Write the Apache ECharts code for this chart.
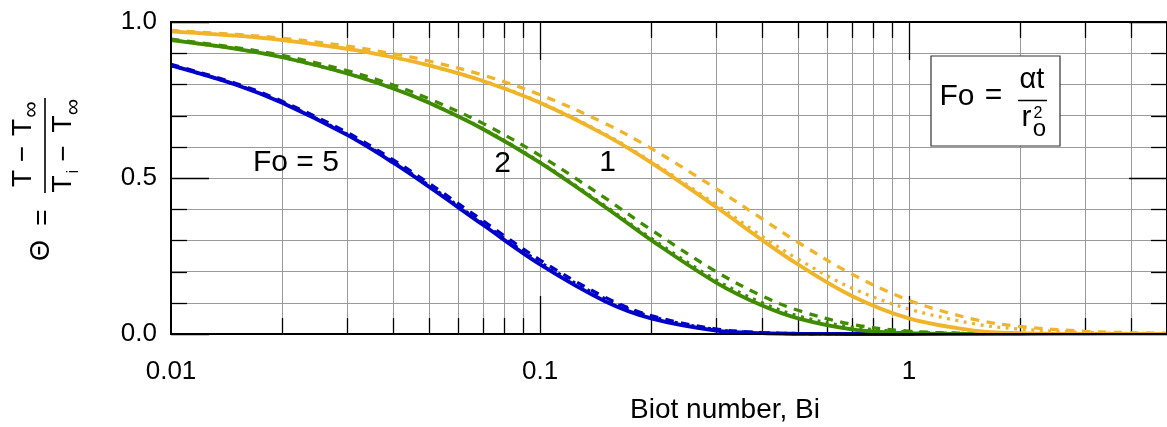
<!DOCTYPE html>
<html>
<head>
<meta charset="utf-8">
<script src="https://cdn.jsdelivr.net/npm/echarts@6/dist/echarts.min.js"></script>
<style>
  html, body { margin: 0; padding: 0; background: #fff; }
  #chart { width: 1167px; height: 427px; }
</style>
</head>
<body>
<div id="chart"></div>
<script>
// Biot numbers at which the curves are sampled
const biot = [0.01, 0.015, 0.02, 0.03, 0.04, 0.05, 0.07, 0.1, 0.15, 0.2, 0.3, 0.4, 0.5, 0.7, 1, 1.5, 2, 3, 4, 5];

// Fo = 1 (orange)
const fo1Solid  = [0.970, 0.956, 0.942, 0.914, 0.887, 0.861, 0.811, 0.741, 0.638, 0.549, 0.407, 0.301, 0.223, 0.122, 0.050, 0.011, 0.0025, 0.0001, 0, 0];
const fo1Dashed = [0.973, 0.960, 0.948, 0.923, 0.898, 0.875, 0.830, 0.767, 0.675, 0.595, 0.466, 0.369, 0.294, 0.192, 0.108, 0.047, 0.024, 0.0086, 0.0041, 0.0024];
const fo1Dotted = [0.970, 0.956, 0.942, 0.914, 0.887, 0.861, 0.812, 0.743, 0.641, 0.553, 0.415, 0.313, 0.240, 0.147, 0.080, 0.033, 0.0155, 0.0049, 0.0021, 0.0012];

// Fo = 2 (green)
const fo2Solid  = [0.942, 0.914, 0.887, 0.835, 0.787, 0.741, 0.657, 0.549, 0.407, 0.301, 0.165, 0.091, 0.050, 0.015, 0.0025, 0.0001, 0, 0, 0, 0];
const fo2Dashed = [0.945, 0.918, 0.893, 0.844, 0.798, 0.754, 0.675, 0.572, 0.436, 0.334, 0.200, 0.122, 0.076, 0.031, 0.0092, 0.0016, 0.0004, 0, 0, 0];
const fo2Dotted = [0.942, 0.914, 0.887, 0.835, 0.787, 0.742, 0.658, 0.551, 0.411, 0.307, 0.173, 0.100, 0.058, 0.022, 0.0065, 0.0011, 0.0003, 0, 0, 0];

// Fo = 5 (blue)
const fo5Solid  = [0.861, 0.799, 0.741, 0.638, 0.549, 0.472, 0.350, 0.223, 0.105, 0.050, 0.011, 0.0025, 0.0006, 0, 0, 0, 0, 0, 0, 0];
const fo5Dashed = [0.864, 0.803, 0.746, 0.646, 0.558, 0.483, 0.363, 0.237, 0.118, 0.059, 0.016, 0.0044, 0.0013, 0.0001, 0, 0, 0, 0, 0, 0];
const fo5Dotted = [0.861, 0.799, 0.742, 0.640, 0.552, 0.476, 0.355, 0.230, 0.113, 0.056, 0.014, 0.0039, 0.0011, 0.0001, 0, 0, 0, 0, 0, 0];

// Axis ticks and labels
const xTickValues = [0.01, 0.1, 1];
const xTickLabels = ['0.01', '0.1', '1'];
const xGridValues = [0.02, 0.03, 0.04, 0.05, 0.06, 0.07, 0.08, 0.09, 0.1, 0.2, 0.3, 0.4, 0.5, 0.6, 0.7, 0.8, 0.9, 1, 2, 3, 4];
const yTickValues = [0, 0.1, 0.2, 0.3, 0.4, 0.5, 0.6, 0.7, 0.8, 0.9, 1];
const yTickLabels = ['0.0', '0.5', '1.0'];
const yLabeledValues = [0, 0.5, 1];

const FONT = '"Liberation Sans", Arial, Helvetica, sans-serif';
const ORANGE = '#f0b429';
const GREEN = '#3f8c00';
const BLUE = '#0000c8';
const GRID_GRAY = '#9a9a9a';
const MINOR_TICK = 16;
const MAJOR_TICK = 38;

function pairs(values) {
  return biot.map((b, i) => [b, values[i]]);
}

function curve(name, values, color, kind) {
  const style = { color: color, width: kind === 'solid' ? 3.8 : 3.3, cap: 'butt' };
  if (kind === 'dashed') style.type = [8.5, 7.5];
  if (kind === 'dotted') style.type = [3, 5.5];
  return {
    name: name,
    type: 'line',
    data: pairs(values),
    showSymbol: false,
    smooth: 0.35,
    lineStyle: style,
    z: 5,
    silent: true
  };
}

function isMajorX(v) {
  return xTickValues.some(t => Math.abs(Math.log10(t) - Math.log10(v)) < 1e-6);
}

function isMajorY(v) {
  return yLabeledValues.some(t => Math.abs(t - v) < 1e-6);
}

const chart = echarts.init(document.getElementById('chart'), null, { renderer: 'canvas' });

function txt(x, y, text, size, align, z) {
  return {
    type: 'text', x: x, y: y, silent: true, z: z || 30,
    style: {
      text: text, fill: '#000', font: size + 'px ' + FONT, fontSize: size, fontFamily: FONT,
      align: align || 'center', textAlign: align || 'center',
      verticalAlign: 'middle', textVerticalAlign: 'middle'
    }
  };
}

const option = {
  backgroundColor: '#fff',
  animation: false,
  grid: {
    left: 171, right: -7, top: 22, bottom: 93,
    show: true, borderColor: '#000', borderWidth: 2, backgroundColor: 'transparent', z: 10
  },
  xAxis: {
    type: 'log', logBase: 10, min: 0.01, max: 5,
    axisLine: { show: false },
    axisTick: { show: false },
    splitLine: { show: false },
    minorSplitLine: { show: false },
    axisLabel: {
      color: '#000', fontSize: 26, fontFamily: FONT, margin: 25,
      showMaxLabel: false,
      formatter: function (v) {
        for (let i = 0; i < xTickValues.length; i++) {
          if (Math.abs(Math.log10(xTickValues[i]) - Math.log10(v)) < 1e-6) return xTickLabels[i];
        }
        return '';
      }
    }
  },
  yAxis: {
    type: 'value', min: 0, max: 1, interval: 0.1,
    axisLine: { show: false },
    axisTick: { show: false },
    splitLine: { show: true, lineStyle: { color: GRID_GRAY, width: 1 } },
    axisLabel: {
      color: '#000', fontSize: 26, fontFamily: FONT, margin: 14,
      formatter: function (v) {
        for (let i = 0; i < yLabeledValues.length; i++) {
          if (Math.abs(yLabeledValues[i] - v) < 1e-6) return yTickLabels[i];
        }
        return '';
      }
    }
  },
  series: [
    // vertical log grid lines with inward ticks on the bottom and top edges
    {
      type: 'custom',
      silent: true,
      z: 2,
      clip: false,
      data: xGridValues.map(v => [v, 0]),
      renderItem: function (params, api) {
        const v = api.value(0);
        const x = Math.round(api.coord([v, 0])[0]) + 0.5;
        const cs = params.coordSys;
        const len = isMajorX(v) ? MAJOR_TICK : MINOR_TICK;
        const top = cs.y, bottom = cs.y + cs.height;
        return {
          type: 'group',
          children: [
            { type: 'line', shape: { x1: x, y1: top, x2: x, y2: bottom }, style: { stroke: GRID_GRAY, lineWidth: 1 } },
            { type: 'line', shape: { x1: x, y1: bottom, x2: x, y2: bottom - len }, style: { stroke: '#000', lineWidth: 1.3 } },
            { type: 'line', shape: { x1: x, y1: top, x2: x, y2: top + len }, style: { stroke: '#000', lineWidth: 1.3 } }
          ]
        };
      }
    },
    // inward ticks on the left and right edges
    {
      type: 'custom',
      silent: true,
      z: 2,
      clip: false,
      data: yTickValues.map(v => [0.01, v]),
      renderItem: function (params, api) {
        const v = api.value(1);
        const y = Math.round(api.coord([0.01, v])[1]) + 0.5;
        const cs = params.coordSys;
        const len = isMajorY(v) ? MAJOR_TICK : MINOR_TICK;
        const left = cs.x, right = cs.x + cs.width;
        return {
          type: 'group',
          children: [
            { type: 'line', shape: { x1: left, y1: y, x2: left + len, y2: y }, style: { stroke: '#000', lineWidth: 1.3 } },
            { type: 'line', shape: { x1: right, y1: y, x2: right - len, y2: y }, style: { stroke: '#000', lineWidth: 1.3 } }
          ]
        };
      }
    },
    curve('Fo = 5 lumped', fo5Solid, BLUE, 'solid'),
    curve('Fo = 5 center', fo5Dashed, BLUE, 'dashed'),
    curve('Fo = 5 mean', fo5Dotted, BLUE, 'dotted'),
    curve('Fo = 2 lumped', fo2Solid, GREEN, 'solid'),
    curve('Fo = 2 center', fo2Dashed, GREEN, 'dashed'),
    curve('Fo = 2 mean', fo2Dotted, GREEN, 'dotted'),
    curve('Fo = 1 lumped', fo1Solid, ORANGE, 'solid'),
    curve('Fo = 1 center', fo1Dashed, ORANGE, 'dashed'),
    curve('Fo = 1 mean', fo1Dotted, ORANGE, 'dotted')
  ],
  graphic: [
    // x axis title
    txt(725, 410, 'Biot number, Bi', 28),
    // curve labels
    txt(253, 163, 'Fo = 5', 30, 'left'),
    txt(502.5, 164, '2', 30),
    txt(607.5, 163, '1', 30),
    // Fourier number definition box
    {
      type: 'rect', silent: true, z: 20,
      shape: { x: 931, y: 56, width: 129, height: 90 },
      style: { fill: '#fff', stroke: '#333', lineWidth: 1.2 }
    },
    txt(957, 97, 'Fo', 30),
    txt(993.5, 96, '=', 30),
    txt(1032, 80, '\u03b1t', 29),
    { type: 'line', z: 30, silent: true, shape: { x1: 1018, y1: 100.5, x2: 1047, y2: 100.5 }, style: { stroke: '#000', lineWidth: 1.5 } },
    txt(1026.5, 117.5, 'r', 30),
    txt(1039.5, 129, 'o', 24),
    txt(1038, 113.5, '2', 16),
    // y axis title: Θ = (T − T∞) / (Ti − T∞), reading bottom to top
    {
      type: 'group', x: 45, y: 175, rotation: Math.PI / 2, silent: true,
      children: [
        txt(-75.5, -3, '\u0398', 27),
        txt(-42.5, -1.5, '=', 28),
        { type: 'line', shape: { x1: -18, y1: 0, x2: 77, y2: 0 }, style: { stroke: '#000', lineWidth: 1.6 } },
        txt(-3.5, -22, 'T', 28),
        txt(21, -21.5, '\u2212', 28),
        txt(47.5, -22, 'T', 28),
        txt(65.5, -13, '\u221e', 23),
        txt(-9, 18.5, 'T', 28),
        txt(3.5, 28.5, 'i', 17),
        txt(21.5, 19.5, '\u2212', 28),
        txt(51, 18.5, 'T', 28),
        txt(68, 29, '\u221e', 23)
      ]
    }
  ]
};

chart.setOption(option);
</script>
</body>
</html>
